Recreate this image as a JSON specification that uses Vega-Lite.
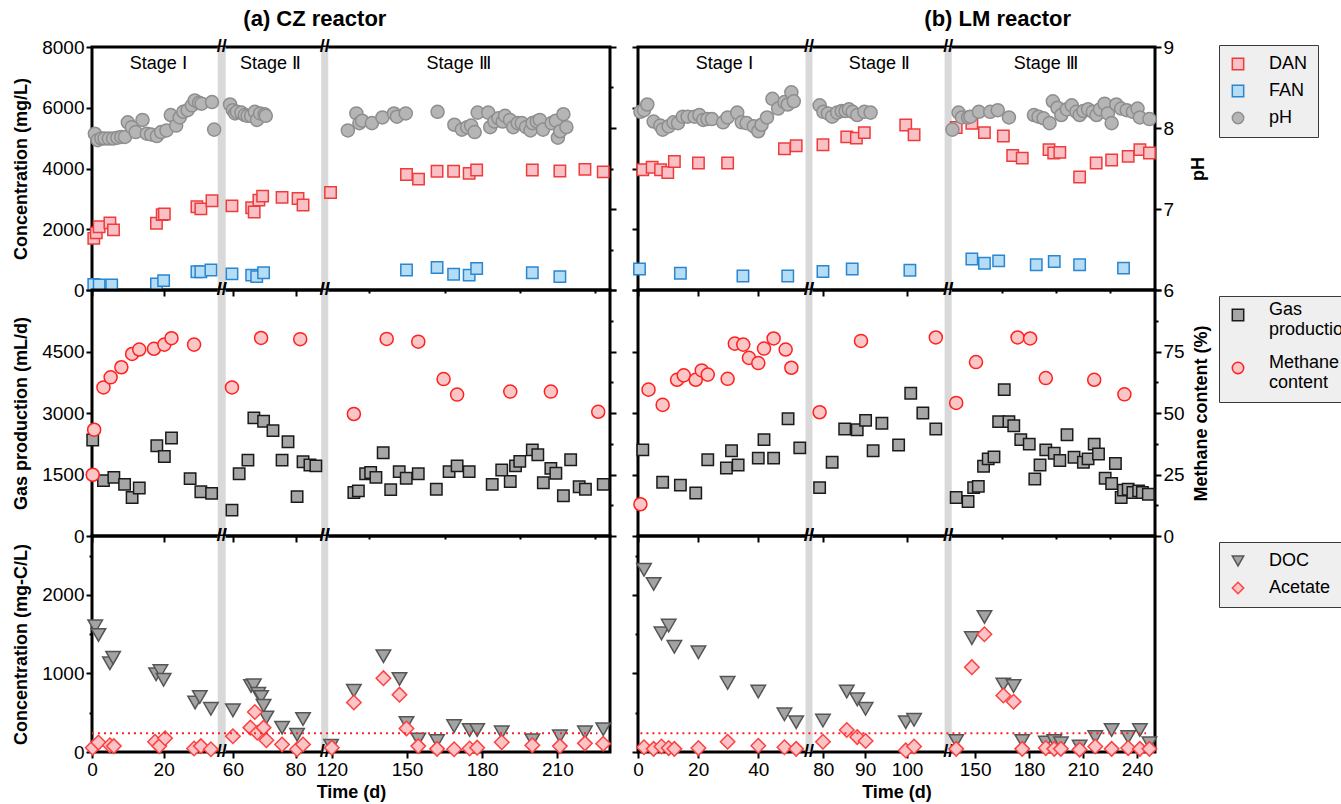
{
"$schema":"https://vega.github.io/schema/vega-lite/v6.json",
"background":"white",
"padding":{"left":11,"top":7,"right":0,"bottom":0},
"config":{
 "font":"Liberation Sans",
 "view":{"stroke":"black","strokeWidth":3},
 "axis":{"domain":false,"grid":false,"tickColor":"black","tickWidth":2,"labelFontSize":19,"labelColor":"black","labelFont":"Liberation Sans","titleFont":"Liberation Sans","titleFontSize":18,"titleFontWeight":"bold","titleColor":"black","labelPadding":2,"labelOverlap":false,"labelFlush":false},
 "legend":{"fillColor":"#efefef","strokeColor":"#3a3a3a","padding":10,"labelFontSize":18,"labelFont":"Liberation Sans","labelColor":"black","symbolSize":130,"symbolStrokeWidth":1.5,"rowPadding":9,"labelOffset":22,"cornerRadius":0,"labelLimit":300},
 "title":{"font":"Liberation Sans","fontSize":22,"fontWeight":"bold","color":"black","anchor":"middle","offset":6}
},
"datasets":{
 "czBands":[{"a":35.1,"z":57.7},{"a":88.2,"z":118.6}],
 "lmBands":[{"a":55.7,"z":77.4},{"a":109,"z":137}],
 "czBreaks":[{"b":46.4},{"b":103.4}],
 "lmBreaks":[{"b":66.5},{"b":123}],
 "czStages":[{"d":18.5,"v":7450,"t":"Stage Ⅰ"},{"d":72,"v":7450,"t":"Stage Ⅱ"},{"d":170.6,"v":7450,"t":"Stage Ⅲ"}],
 "lmStages":[{"d":28.7,"v":7450,"t":"Stage Ⅰ"},{"d":93.4,"v":7450,"t":"Stage Ⅱ"},{"d":189.3,"v":7450,"t":"Stage Ⅲ"}],
 "czLimit":[{"a":0,"z":226,"v":240}],
 "lmLimit":[{"a":0.8,"z":245,"v":240}],
 "czTop":[
  {"s":"DAN","d":0.5,"v":1700},{"s":"DAN","d":1.2,"v":1880},{"s":"DAN","d":2,"v":2080},{"s":"DAN","d":5,"v":2210},{"s":"DAN","d":6,"v":1980},{"s":"DAN","d":18,"v":2200},{"s":"DAN","d":19.6,"v":2480},{"s":"DAN","d":20.2,"v":2500},{"s":"DAN","d":29.3,"v":2740},{"s":"DAN","d":30.4,"v":2670},{"s":"DAN","d":33.5,"v":2940},{"s":"DAN","d":59.7,"v":2770},{"s":"DAN","d":66,"v":2710},{"s":"DAN","d":66.8,"v":2570},{"s":"DAN","d":68.3,"v":2960},{"s":"DAN","d":69.5,"v":3090},{"s":"DAN","d":75.7,"v":3050},{"s":"DAN","d":80.8,"v":3010},{"s":"DAN","d":82.4,"v":2800},{"s":"DAN","d":119.5,"v":3210},{"s":"DAN","d":149.8,"v":3800},{"s":"DAN","d":154.6,"v":3650},{"s":"DAN","d":162,"v":3910},{"s":"DAN","d":168.6,"v":3910},{"s":"DAN","d":174.8,"v":3840},{"s":"DAN","d":177.8,"v":3950},{"s":"DAN","d":200,"v":3950},{"s":"DAN","d":211,"v":3920},{"s":"DAN","d":221,"v":3970},{"s":"DAN","d":228.3,"v":3890},
  {"s":"FAN","d":0.5,"v":180},{"s":"FAN","d":2,"v":170},{"s":"FAN","d":5.5,"v":170},{"s":"FAN","d":18,"v":200},{"s":"FAN","d":20,"v":310},{"s":"FAN","d":29.3,"v":600},{"s":"FAN","d":30.4,"v":600},{"s":"FAN","d":33.2,"v":660},{"s":"FAN","d":59.7,"v":530},{"s":"FAN","d":66,"v":490},{"s":"FAN","d":67.6,"v":440},{"s":"FAN","d":69.8,"v":570},{"s":"FAN","d":149.8,"v":660},{"s":"FAN","d":162,"v":740},{"s":"FAN","d":168.6,"v":520},{"s":"FAN","d":174.8,"v":490},{"s":"FAN","d":177.8,"v":710},{"s":"FAN","d":200,"v":570},{"s":"FAN","d":211,"v":440},
  {"s":"pH","d":0.8,"v":7.93},{"s":"pH","d":1.6,"v":7.85},{"s":"pH","d":2.6,"v":7.87},{"s":"pH","d":3.5,"v":7.87},{"s":"pH","d":4.7,"v":7.87},{"s":"pH","d":5.9,"v":7.87},{"s":"pH","d":7.1,"v":7.88},{"s":"pH","d":8.2,"v":7.89},{"s":"pH","d":9.2,"v":7.89},{"s":"pH","d":10,"v":8.07},{"s":"pH","d":11.1,"v":8.01},{"s":"pH","d":12.2,"v":7.95},{"s":"pH","d":14.1,"v":8.1},{"s":"pH","d":15.3,"v":7.93},{"s":"pH","d":16.5,"v":7.92},{"s":"pH","d":18.1,"v":7.9},{"s":"pH","d":19.3,"v":7.95},{"s":"pH","d":20.8,"v":7.97},{"s":"pH","d":22,"v":8.16},{"s":"pH","d":23.5,"v":8.03},{"s":"pH","d":24.5,"v":8.13},{"s":"pH","d":25.5,"v":8.2},{"s":"pH","d":26.7,"v":8.22},{"s":"pH","d":27.9,"v":8.28},{"s":"pH","d":28.7,"v":8.34},{"s":"pH","d":29.9,"v":8.31},{"s":"pH","d":30.6,"v":8.3},{"s":"pH","d":33.5,"v":8.32},{"s":"pH","d":34.1,"v":7.98},
  {"s":"pH","d":59.1,"v":8.29},{"s":"pH","d":60,"v":8.22},{"s":"pH","d":60.7,"v":8.18},{"s":"pH","d":61.3,"v":8.2},{"s":"pH","d":62.7,"v":8.19},{"s":"pH","d":63.8,"v":8.16},{"s":"pH","d":64.7,"v":8.15},{"s":"pH","d":65.8,"v":8.15},{"s":"pH","d":67,"v":8.2},{"s":"pH","d":67.7,"v":8.1},{"s":"pH","d":68.7,"v":8.18},{"s":"pH","d":70.1,"v":8.17},{"s":"pH","d":70.5,"v":8.15},
  {"s":"pH","d":126.4,"v":7.97},{"s":"pH","d":129.8,"v":8.18},{"s":"pH","d":131,"v":8.06},{"s":"pH","d":132.1,"v":8.09},{"s":"pH","d":136,"v":8.06},{"s":"pH","d":140.2,"v":8.13},{"s":"pH","d":144.8,"v":8.18},{"s":"pH","d":146,"v":8.14},{"s":"pH","d":149.5,"v":8.18},{"s":"pH","d":162.2,"v":8.2},{"s":"pH","d":168.9,"v":8.04},{"s":"pH","d":171.9,"v":7.98},{"s":"pH","d":174,"v":8.01},{"s":"pH","d":175.6,"v":8.03},{"s":"pH","d":177,"v":7.95},{"s":"pH","d":178.2,"v":8.19},{"s":"pH","d":182.4,"v":8.19},{"s":"pH","d":183.2,"v":8.01},{"s":"pH","d":184.9,"v":8.08},{"s":"pH","d":186.5,"v":8.12},{"s":"pH","d":188.2,"v":8.08},{"s":"pH","d":189.1,"v":8.15},{"s":"pH","d":191.1,"v":8.1},{"s":"pH","d":192.4,"v":8.01},{"s":"pH","d":194.2,"v":8.06},{"s":"pH","d":195.8,"v":8.06},{"s":"pH","d":197.5,"v":8.01},{"s":"pH","d":199.3,"v":7.97},{"s":"pH","d":200.1,"v":8.06},{"s":"pH","d":201.8,"v":8.08},{"s":"pH","d":203,"v":8.1},{"s":"pH","d":204.3,"v":7.98},{"s":"pH","d":207.7,"v":8.06},{"s":"pH","d":209.4,"v":8.09},{"s":"pH","d":210.2,"v":7.88},{"s":"pH","d":211.1,"v":7.96},{"s":"pH","d":212.4,"v":8.17},{"s":"pH","d":213.6,"v":8.01}
 ],
 "lmTop":[
  {"s":"DAN","d":1.6,"v":3960},{"s":"DAN","d":4.7,"v":4040},{"s":"DAN","d":7.5,"v":3960},{"s":"DAN","d":9.9,"v":3870},{"s":"DAN","d":12.1,"v":4230},{"s":"DAN","d":20.1,"v":4180},{"s":"DAN","d":29.8,"v":4180},{"s":"DAN","d":48.7,"v":4650},{"s":"DAN","d":52.6,"v":4750},{"s":"DAN","d":79.9,"v":4780},{"s":"DAN","d":85.6,"v":5040},{"s":"DAN","d":87.9,"v":5000},{"s":"DAN","d":89.8,"v":5180},{"s":"DAN","d":99.7,"v":5430},{"s":"DAN","d":101.7,"v":5110},{"s":"DAN","d":139.5,"v":5350},{"s":"DAN","d":148.2,"v":5490},{"s":"DAN","d":155.2,"v":5180},{"s":"DAN","d":165.7,"v":5070},{"s":"DAN","d":170.9,"v":4430},{"s":"DAN","d":176.2,"v":4340},{"s":"DAN","d":191.1,"v":4620},{"s":"DAN","d":193.7,"v":4510},{"s":"DAN","d":197.1,"v":4530},{"s":"DAN","d":208.1,"v":3720},{"s":"DAN","d":217.3,"v":4180},{"s":"DAN","d":225.9,"v":4280},{"s":"DAN","d":235.1,"v":4400},{"s":"DAN","d":241.6,"v":4620},{"s":"DAN","d":246.9,"v":4510},
  {"s":"FAN","d":0.5,"v":690},{"s":"FAN","d":14.1,"v":550},{"s":"FAN","d":34.9,"v":460},{"s":"FAN","d":49.8,"v":460},{"s":"FAN","d":79.9,"v":610},{"s":"FAN","d":86.9,"v":690},{"s":"FAN","d":100.7,"v":650},{"s":"FAN","d":148.2,"v":1020},{"s":"FAN","d":155.2,"v":880},{"s":"FAN","d":163.1,"v":960},{"s":"FAN","d":184,"v":830},{"s":"FAN","d":194,"v":940},{"s":"FAN","d":208.1,"v":830},{"s":"FAN","d":232.5,"v":720},
  {"s":"pH","d":0.8,"v":8.2},{"s":"pH","d":2,"v":8.22},{"s":"pH","d":3.1,"v":8.29},{"s":"pH","d":5.2,"v":8.08},{"s":"pH","d":7.4,"v":8.03},{"s":"pH","d":8.2,"v":7.98},{"s":"pH","d":10.2,"v":8.02},{"s":"pH","d":11.8,"v":8.07},{"s":"pH","d":13.3,"v":8.06},{"s":"pH","d":14.9,"v":8.14},{"s":"pH","d":16.5,"v":8.14},{"s":"pH","d":18.8,"v":8.14},{"s":"pH","d":20.4,"v":8.16},{"s":"pH","d":21.7,"v":8.1},{"s":"pH","d":23.1,"v":8.11},{"s":"pH","d":24.6,"v":8.11},{"s":"pH","d":28.3,"v":8.07},{"s":"pH","d":29.8,"v":8.13},{"s":"pH","d":33,"v":8.19},{"s":"pH","d":34.5,"v":8.07},{"s":"pH","d":36.1,"v":8.06},{"s":"pH","d":38.5,"v":8.02},{"s":"pH","d":40,"v":7.96},{"s":"pH","d":41.1,"v":8.04},{"s":"pH","d":42.9,"v":8.13},{"s":"pH","d":44.7,"v":8.36},{"s":"pH","d":46.6,"v":8.24},{"s":"pH","d":48.7,"v":8.32},{"s":"pH","d":49.8,"v":8.29},{"s":"pH","d":51,"v":8.44},{"s":"pH","d":51.8,"v":8.33},
  {"s":"pH","d":79.1,"v":8.28},{"s":"pH","d":80,"v":8.2},{"s":"pH","d":81.1,"v":8.18},{"s":"pH","d":82.1,"v":8.14},{"s":"pH","d":83.3,"v":8.19},{"s":"pH","d":84.4,"v":8.21},{"s":"pH","d":85.3,"v":8.21},{"s":"pH","d":86.1,"v":8.23},{"s":"pH","d":87,"v":8.2},{"s":"pH","d":88.1,"v":8.16},{"s":"pH","d":89.8,"v":8.2},{"s":"pH","d":91.3,"v":8.19},
  {"s":"pH","d":137.4,"v":7.98},{"s":"pH","d":140.8,"v":8.19},{"s":"pH","d":142.7,"v":8.13},{"s":"pH","d":146.1,"v":8.13},{"s":"pH","d":147.4,"v":8.14},{"s":"pH","d":152.1,"v":8.2},{"s":"pH","d":158.4,"v":8.2},{"s":"pH","d":162.6,"v":8.22},{"s":"pH","d":168.8,"v":8.13},{"s":"pH","d":182.7,"v":8.16},{"s":"pH","d":185.3,"v":8.14},{"s":"pH","d":188,"v":8.12},{"s":"pH","d":191.4,"v":8.06},{"s":"pH","d":193.2,"v":8.33},{"s":"pH","d":195.8,"v":8.25},{"s":"pH","d":197.9,"v":8.16},{"s":"pH","d":201,"v":8.23},{"s":"pH","d":203.7,"v":8.28},{"s":"pH","d":206.3,"v":8.2},{"s":"pH","d":208.1,"v":8.16},{"s":"pH","d":210.2,"v":8.21},{"s":"pH","d":212.8,"v":8.23},{"s":"pH","d":215.4,"v":8.2},{"s":"pH","d":217.5,"v":8.16},{"s":"pH","d":219.4,"v":8.23},{"s":"pH","d":222,"v":8.3},{"s":"pH","d":223.8,"v":8.18},{"s":"pH","d":225.9,"v":8.06},{"s":"pH","d":228.5,"v":8.29},{"s":"pH","d":231.2,"v":8.24},{"s":"pH","d":234.3,"v":8.22},{"s":"pH","d":237.7,"v":8.2},{"s":"pH","d":240.3,"v":8.24},{"s":"pH","d":241.6,"v":8.13},{"s":"pH","d":246.9,"v":8.11}
 ],
 "czMid":[
  {"s":"Gas production","d":0.2,"v":2340},{"s":"Gas production","d":3.2,"v":1350},{"s":"Gas production","d":6.1,"v":1430},{"s":"Gas production","d":9.1,"v":1260},{"s":"Gas production","d":11.2,"v":940},{"s":"Gas production","d":13.2,"v":1170},{"s":"Gas production","d":18.1,"v":2200},{"s":"Gas production","d":20.2,"v":1940},{"s":"Gas production","d":22.2,"v":2390},{"s":"Gas production","d":27.4,"v":1400},{"s":"Gas production","d":30.4,"v":1080},{"s":"Gas production","d":33.4,"v":1040},{"s":"Gas production","d":59.7,"v":630},{"s":"Gas production","d":62,"v":1520},{"s":"Gas production","d":64.8,"v":1850},{"s":"Gas production","d":66.7,"v":2880},{"s":"Gas production","d":69.8,"v":2800},{"s":"Gas production","d":72.8,"v":2570},{"s":"Gas production","d":75.7,"v":1850},{"s":"Gas production","d":77.6,"v":2300},{"s":"Gas production","d":80.5,"v":960},{"s":"Gas production","d":82.4,"v":1810},{"s":"Gas production","d":84.6,"v":1730},{"s":"Gas production","d":86.5,"v":1710},{"s":"Gas production","d":128.8,"v":1060},{"s":"Gas production","d":130.6,"v":1100},{"s":"Gas production","d":133.5,"v":1520},{"s":"Gas production","d":135.5,"v":1550},{"s":"Gas production","d":137.6,"v":1430},{"s":"Gas production","d":140.5,"v":2030},{"s":"Gas production","d":143.5,"v":1130},{"s":"Gas production","d":146.9,"v":1570},{"s":"Gas production","d":149.7,"v":1410},{"s":"Gas production","d":154.5,"v":1520},{"s":"Gas production","d":161.7,"v":1140},{"s":"Gas production","d":166.8,"v":1570},{"s":"Gas production","d":170,"v":1710},{"s":"Gas production","d":174.8,"v":1570},{"s":"Gas production","d":184,"v":1260},{"s":"Gas production","d":187.8,"v":1610},{"s":"Gas production","d":191.2,"v":1330},{"s":"Gas production","d":193.3,"v":1710},{"s":"Gas production","d":195,"v":1820},{"s":"Gas production","d":200,"v":2100},{"s":"Gas production","d":202.2,"v":1980},{"s":"Gas production","d":204.4,"v":1300},{"s":"Gas production","d":207.4,"v":1650},{"s":"Gas production","d":209.4,"v":1530},{"s":"Gas production","d":212.4,"v":980},{"s":"Gas production","d":215.3,"v":1860},{"s":"Gas production","d":218.7,"v":1200},{"s":"Gas production","d":221.2,"v":1140},{"s":"Gas production","d":228.3,"v":1260},
  {"s":"Methane content","d":0.2,"v":24.9},{"s":"Methane content","d":0.6,"v":43.2},{"s":"Methane content","d":3.2,"v":60.4},{"s":"Methane content","d":5.2,"v":64.5},{"s":"Methane content","d":8.2,"v":68.6},{"s":"Methane content","d":11.2,"v":74},{"s":"Methane content","d":13.2,"v":75.8},{"s":"Methane content","d":17.3,"v":76.1},{"s":"Methane content","d":20.2,"v":77.8},{"s":"Methane content","d":22.2,"v":80.4},{"s":"Methane content","d":28.5,"v":77.8},{"s":"Methane content","d":59.7,"v":60.4},{"s":"Methane content","d":69,"v":80.5},{"s":"Methane content","d":81.5,"v":80},{"s":"Methane content","d":128.8,"v":49.6},{"s":"Methane content","d":141.9,"v":80.1},{"s":"Methane content","d":154.5,"v":79},{"s":"Methane content","d":164.6,"v":63.8},{"s":"Methane content","d":170,"v":57.5},{"s":"Methane content","d":191.2,"v":58.7},{"s":"Methane content","d":207.4,"v":58.7},{"s":"Methane content","d":226.3,"v":50.5}
 ],
 "lmMid":[
  {"s":"Gas production","d":1.6,"v":2100},{"s":"Gas production","d":8.2,"v":1310},{"s":"Gas production","d":14.1,"v":1240},{"s":"Gas production","d":19.2,"v":1050},{"s":"Gas production","d":23.2,"v":1860},{"s":"Gas production","d":29.4,"v":1660},{"s":"Gas production","d":31.1,"v":2080},{"s":"Gas production","d":33.3,"v":1730},{"s":"Gas production","d":40,"v":1900},{"s":"Gas production","d":41.9,"v":2350},{"s":"Gas production","d":45.1,"v":1900},{"s":"Gas production","d":49.9,"v":2860},{"s":"Gas production","d":53.8,"v":2150},{"s":"Gas production","d":79.1,"v":1180},{"s":"Gas production","d":82.1,"v":1800},{"s":"Gas production","d":85.1,"v":2610},{"s":"Gas production","d":88.1,"v":2590},{"s":"Gas production","d":90.1,"v":2820},{"s":"Gas production","d":91.9,"v":2080},{"s":"Gas production","d":94,"v":2750},{"s":"Gas production","d":98,"v":2220},{"s":"Gas production","d":100.9,"v":3480},{"s":"Gas production","d":103.8,"v":3000},{"s":"Gas production","d":106.9,"v":2610},{"s":"Gas production","d":139.5,"v":940},{"s":"Gas production","d":146.1,"v":840},{"s":"Gas production","d":149.2,"v":1180},{"s":"Gas production","d":151.8,"v":1210},{"s":"Gas production","d":154.7,"v":1700},{"s":"Gas production","d":157.3,"v":1880},{"s":"Gas production","d":160.5,"v":1930},{"s":"Gas production","d":163.1,"v":2790},{"s":"Gas production","d":166.2,"v":3570},{"s":"Gas production","d":168.8,"v":2790},{"s":"Gas production","d":171.5,"v":2690},{"s":"Gas production","d":175.4,"v":2350},{"s":"Gas production","d":180.1,"v":2240},{"s":"Gas production","d":183.2,"v":1390},{"s":"Gas production","d":186.1,"v":1730},{"s":"Gas production","d":189.3,"v":2100},{"s":"Gas production","d":194,"v":2020},{"s":"Gas production","d":197.1,"v":1840},{"s":"Gas production","d":201.1,"v":2470},{"s":"Gas production","d":205,"v":1920},{"s":"Gas production","d":210.2,"v":1800},{"s":"Gas production","d":212.8,"v":1880},{"s":"Gas production","d":216.2,"v":2240},{"s":"Gas production","d":218.6,"v":2000},{"s":"Gas production","d":222.3,"v":1410},{"s":"Gas production","d":225.9,"v":1280},{"s":"Gas production","d":228,"v":1770},{"s":"Gas production","d":231.2,"v":940},{"s":"Gas production","d":232.5,"v":1120},{"s":"Gas production","d":235.1,"v":1140},{"s":"Gas production","d":237.7,"v":1060},{"s":"Gas production","d":240.9,"v":1100},{"s":"Gas production","d":243,"v":1060},{"s":"Gas production","d":246.3,"v":1020},
  {"s":"Methane content","d":0.8,"v":12.9},{"s":"Methane content","d":3.5,"v":59.5},{"s":"Methane content","d":8.2,"v":53.3},{"s":"Methane content","d":13,"v":63.5},{"s":"Methane content","d":15.2,"v":65.3},{"s":"Methane content","d":19.2,"v":63.5},{"s":"Methane content","d":21.2,"v":67.3},{"s":"Methane content","d":23.2,"v":65.6},{"s":"Methane content","d":29.8,"v":63.9},{"s":"Methane content","d":32.2,"v":78.2},{"s":"Methane content","d":35,"v":77.8},{"s":"Methane content","d":36.9,"v":72.4},{"s":"Methane content","d":40,"v":70.3},{"s":"Methane content","d":41.9,"v":76.2},{"s":"Methane content","d":45.1,"v":80.3},{"s":"Methane content","d":49.1,"v":75.8},{"s":"Methane content","d":51,"v":68.4},{"s":"Methane content","d":79.1,"v":50.3},{"s":"Methane content","d":89,"v":79.3},{"s":"Methane content","d":106.9,"v":80.7},{"s":"Methane content","d":139.5,"v":54.1},{"s":"Methane content","d":150.5,"v":70.7},{"s":"Methane content","d":173.6,"v":80.7},{"s":"Methane content","d":180.6,"v":80.3},{"s":"Methane content","d":189.3,"v":64.2},{"s":"Methane content","d":216.2,"v":63.5},{"s":"Methane content","d":233,"v":57.6}
 ],
 "czBot":[
  {"s":"DOC","d":0.9,"v":1600},{"s":"DOC","d":1.8,"v":1490},{"s":"DOC","d":5,"v":1130},{"s":"DOC","d":5.9,"v":1200},{"s":"DOC","d":17.9,"v":990},{"s":"DOC","d":19.1,"v":1030},{"s":"DOC","d":20,"v":920},{"s":"DOC","d":28.8,"v":630},{"s":"DOC","d":30.1,"v":700},{"s":"DOC","d":33.2,"v":550},{"s":"DOC","d":60,"v":530},{"s":"DOC","d":65.8,"v":840},{"s":"DOC","d":66.7,"v":850},{"s":"DOC","d":68.1,"v":740},{"s":"DOC","d":69,"v":700},{"s":"DOC","d":69.8,"v":590},{"s":"DOC","d":70.7,"v":440},{"s":"DOC","d":75.7,"v":310},{"s":"DOC","d":80.5,"v":220},{"s":"DOC","d":82.4,"v":420},{"s":"DOC","d":119.7,"v":80},{"s":"DOC","d":128.8,"v":780},{"s":"DOC","d":140.6,"v":1220},{"s":"DOC","d":147,"v":930},{"s":"DOC","d":149.8,"v":370},{"s":"DOC","d":154.5,"v":160},{"s":"DOC","d":162,"v":140},{"s":"DOC","d":168.8,"v":330},{"s":"DOC","d":175,"v":280},{"s":"DOC","d":178,"v":280},{"s":"DOC","d":187.8,"v":250},{"s":"DOC","d":200,"v":150},{"s":"DOC","d":211,"v":200},{"s":"DOC","d":221,"v":250},{"s":"DOC","d":228.3,"v":290},
  {"s":"Acetate","d":0.2,"v":55},{"s":"Acetate","d":1.8,"v":120},{"s":"Acetate","d":5,"v":85},{"s":"Acetate","d":6.1,"v":75},{"s":"Acetate","d":17.6,"v":130},{"s":"Acetate","d":18.8,"v":75},{"s":"Acetate","d":20.4,"v":175},{"s":"Acetate","d":28.5,"v":45},{"s":"Acetate","d":30.4,"v":75},{"s":"Acetate","d":33.2,"v":35},{"s":"Acetate","d":60,"v":200},{"s":"Acetate","d":65.6,"v":310},{"s":"Acetate","d":67,"v":510},{"s":"Acetate","d":67.8,"v":245},{"s":"Acetate","d":69.8,"v":310},{"s":"Acetate","d":70.7,"v":150},{"s":"Acetate","d":75.7,"v":95},{"s":"Acetate","d":80.5,"v":35},{"s":"Acetate","d":82.4,"v":95},{"s":"Acetate","d":120,"v":55},{"s":"Acetate","d":128.8,"v":630},{"s":"Acetate","d":140.6,"v":940},{"s":"Acetate","d":147,"v":730},{"s":"Acetate","d":149.8,"v":300},{"s":"Acetate","d":154.5,"v":75},{"s":"Acetate","d":162,"v":40},{"s":"Acetate","d":168.8,"v":35},{"s":"Acetate","d":175,"v":45},{"s":"Acetate","d":178,"v":55},{"s":"Acetate","d":187.8,"v":125},{"s":"Acetate","d":200,"v":85},{"s":"Acetate","d":211,"v":75},{"s":"Acetate","d":221,"v":110},{"s":"Acetate","d":228.3,"v":105}
 ],
 "lmBot":[
  {"s":"DOC","d":2,"v":2320},{"s":"DOC","d":5.2,"v":2140},{"s":"DOC","d":7.8,"v":1510},{"s":"DOC","d":10.2,"v":1610},{"s":"DOC","d":12.1,"v":1340},{"s":"DOC","d":20.1,"v":1270},{"s":"DOC","d":29.8,"v":880},{"s":"DOC","d":40,"v":770},{"s":"DOC","d":48.7,"v":480},{"s":"DOC","d":52.6,"v":380},{"s":"DOC","d":79.9,"v":400},{"s":"DOC","d":85.6,"v":770},{"s":"DOC","d":88.1,"v":670},{"s":"DOC","d":90.1,"v":550},{"s":"DOC","d":99.7,"v":380},{"s":"DOC","d":101.7,"v":410},{"s":"DOC","d":139.5,"v":140},{"s":"DOC","d":148.2,"v":1450},{"s":"DOC","d":155.2,"v":1720},{"s":"DOC","d":165.7,"v":860},{"s":"DOC","d":171.4,"v":840},{"s":"DOC","d":176.2,"v":140},{"s":"DOC","d":189.3,"v":120},{"s":"DOC","d":194,"v":140},{"s":"DOC","d":197.7,"v":110},{"s":"DOC","d":208.1,"v":70},{"s":"DOC","d":216.8,"v":190},{"s":"DOC","d":225.9,"v":280},{"s":"DOC","d":235.1,"v":190},{"s":"DOC","d":241.6,"v":280},{"s":"DOC","d":246.9,"v":110},
  {"s":"Acetate","d":2,"v":60},{"s":"Acetate","d":5.2,"v":40},{"s":"Acetate","d":7.8,"v":70},{"s":"Acetate","d":10.2,"v":50},{"s":"Acetate","d":12.1,"v":40},{"s":"Acetate","d":20.1,"v":50},{"s":"Acetate","d":29.8,"v":130},{"s":"Acetate","d":40,"v":80},{"s":"Acetate","d":48.7,"v":60},{"s":"Acetate","d":52.6,"v":40},{"s":"Acetate","d":79.9,"v":130},{"s":"Acetate","d":85.6,"v":280},{"s":"Acetate","d":88.1,"v":190},{"s":"Acetate","d":90.1,"v":140},{"s":"Acetate","d":99.7,"v":20},{"s":"Acetate","d":101.7,"v":70},{"s":"Acetate","d":139.5,"v":40},{"s":"Acetate","d":148.2,"v":1080},{"s":"Acetate","d":155.2,"v":1500},{"s":"Acetate","d":165.7,"v":720},{"s":"Acetate","d":171.4,"v":640},{"s":"Acetate","d":176.2,"v":40},{"s":"Acetate","d":189.3,"v":50},{"s":"Acetate","d":194,"v":40},{"s":"Acetate","d":197.7,"v":40},{"s":"Acetate","d":208.1,"v":30},{"s":"Acetate","d":216.8,"v":70},{"s":"Acetate","d":225.9,"v":40},{"s":"Acetate","d":235.1,"v":50},{"s":"Acetate","d":241.6,"v":40},{"s":"Acetate","d":246.9,"v":40}
 ]
},
"hconcat":[
 {
  "title":{"text":"(a) CZ reactor"},
  "spacing":0,
  "bounds":"flush",
  "resolve":{"scale":{"fill":"independent","stroke":"independent","shape":"independent"}},
  "vconcat":[
   {
    "width":518,"height":243,
    "resolve":{"scale":{"y":"independent"}},
    "layer":[
     {"layer":[
      {"data":{"name":"czBands"},"mark":{"type":"rect","color":"#d9d9d9"},"encoding":{"x":{"field":"a","type":"quantitative","title":null,"scale":{"domain":[0,35.1,57.7,88.2,118.6,231],"range":[0,125.7,133.7,229.2,236.3,518],"nice":false,"zero":false},"axis":{"values":[0,10,20,30,60,70,80,120,135,150,165,180,195,210,225],"labels":false,"tickSize":{"condition":{"test":"indexof([0,20,60,80,120,150,180,210],datum.value)>=0","value":6},"value":3}}},"x2":{"field":"z"}}},
      {"data":{"name":"czBreaks"},"mark":{"type":"text","text":"//","fontSize":18,"fontWeight":"bold","color":"black","baseline":"middle","align":"center"},"encoding":{"x":{"field":"b","type":"quantitative","title":null},"y":{"datum":0,"type":"quantitative","title":"Concentration (mg/L)"}}},
      {"data":{"name":"czBreaks"},"mark":{"type":"text","text":"//","fontSize":18,"fontWeight":"bold","color":"black","baseline":"middle","align":"center"},"encoding":{"x":{"field":"b","type":"quantitative","title":null},"y":{"datum":8000,"type":"quantitative","title":"Concentration (mg/L)"}}},
      {"data":{"name":"czStages"},"mark":{"type":"text","fontSize":18,"color":"black","font":"Liberation Sans"},"encoding":{"x":{"field":"d","type":"quantitative","title":null},"y":{"field":"v","type":"quantitative","title":"Concentration (mg/L)"},"text":{"field":"t"}}},
      {"data":{"name":"czTop"},"transform":[{"filter":"datum.s != 'pH'"}],"mark":{"type":"point","filled":true,"opacity":1,"size":130,"strokeWidth":1.5},
       "encoding":{"x":{"field":"d","type":"quantitative","title":null},
        "y":{"field":"v","type":"quantitative","title":"Concentration (mg/L)","scale":{"domain":[0,8000],"nice":false},"axis":{"values":[0,1000,2000,3000,4000,5000,6000,7000,8000],"format":"d","labelExpr":"datum.value % 2000 == 0 ? datum.label : ''","titlePadding":11,"tickSize":{"condition":{"test":"datum.value % 2000 == 0","value":6},"value":3}}},
        "fill":{"field":"s","type":"nominal","scale":{"domain":["DAN","FAN","pH"],"range":["#f9c1c5","#b6ddf6","#b5b5b5"]},"legend":null},
        "stroke":{"field":"s","type":"nominal","scale":{"domain":["DAN","FAN","pH"],"range":["#ef3b3b","#2b86d0","#8e8e8e"]},"legend":null},
        "shape":{"field":"s","type":"nominal","scale":{"domain":["DAN","FAN","pH"],"range":["square","square","circle"]},"legend":null}}}
     ]},
     {"data":{"name":"czTop"},"transform":[{"filter":"datum.s == 'pH'"}],"mark":{"type":"point","filled":true,"opacity":1,"size":170,"strokeWidth":1.5},
      "encoding":{"x":{"field":"d","type":"quantitative","title":null},
       "y":{"field":"v","type":"quantitative","title":null,"scale":{"domain":[6,9],"nice":false,"zero":false},"axis":{"orient":"right","values":[6,6.5,7,7.5,8,8.5,9],"labels":false,"tickSize":{"condition":{"test":"datum.value % 1 == 0","value":6},"value":3}}},
       "fill":{"field":"s","type":"nominal","scale":{"domain":["DAN","FAN","pH"],"range":["#f9c1c5","#b6ddf6","#b5b5b5"]},"legend":null},
       "stroke":{"field":"s","type":"nominal","scale":{"domain":["DAN","FAN","pH"],"range":["#ef3b3b","#2b86d0","#8e8e8e"]},"legend":null},
       "shape":{"field":"s","type":"nominal","scale":{"domain":["DAN","FAN","pH"],"range":["square","square","circle"]},"legend":null}}}
    ]
   },
   {
    "width":518,"height":246,
    "resolve":{"scale":{"y":"independent"}},
    "layer":[
     {"layer":[
      {"data":{"name":"czBands"},"mark":{"type":"rect","color":"#d9d9d9"},"encoding":{"x":{"field":"a","type":"quantitative","title":null,"scale":{"domain":[0,35.1,57.7,88.2,118.6,231],"range":[0,125.7,133.7,229.2,236.3,518],"nice":false,"zero":false},"axis":{"values":[0,10,20,30,60,70,80,120,135,150,165,180,195,210,225],"labels":false,"tickSize":{"condition":{"test":"indexof([0,20,60,80,120,150,180,210],datum.value)>=0","value":6},"value":3}}},"x2":{"field":"z"}}},
      {"data":{"name":"czBreaks"},"mark":{"type":"text","text":"//","fontSize":18,"fontWeight":"bold","color":"black","baseline":"middle","align":"center"},"encoding":{"x":{"field":"b","type":"quantitative","title":null},"y":{"datum":0,"type":"quantitative","title":"Gas production (mL/d)"}}},
      {"data":{"name":"czBreaks"},"mark":{"type":"text","text":"//","fontSize":18,"fontWeight":"bold","color":"black","baseline":"middle","align":"center"},"encoding":{"x":{"field":"b","type":"quantitative","title":null},"y":{"datum":6000,"type":"quantitative","title":"Gas production (mL/d)"}}},
      {"data":{"name":"czMid"},"transform":[{"filter":"datum.s == 'Gas production'"}],"mark":{"type":"point","filled":true,"opacity":1,"size":130,"strokeWidth":1.5},
       "encoding":{"x":{"field":"d","type":"quantitative","title":null},
        "y":{"field":"v","type":"quantitative","title":"Gas production (mL/d)","scale":{"domain":[0,6000],"nice":false},"axis":{"values":[0,750,1500,2250,3000,3750,4500,5250,6000],"format":"d","labelExpr":"datum.value % 1500 == 0 && datum.value < 6000 ? datum.label : ''","titlePadding":11,"tickSize":{"condition":{"test":"datum.value % 1500 == 0","value":6},"value":3}}},
        "fill":{"field":"s","type":"nominal","scale":{"domain":["Gas production","Methane content"],"range":["#a6a6a6","#fbc6c6"]},"legend":null},
        "stroke":{"field":"s","type":"nominal","scale":{"domain":["Gas production","Methane content"],"range":["#1a1a1a","#ff2020"]},"legend":null},
        "shape":{"field":"s","type":"nominal","scale":{"domain":["Gas production","Methane content"],"range":["square","circle"]},"legend":null}}}
     ]},
     {"data":{"name":"czMid"},"transform":[{"filter":"datum.s == 'Methane content'"}],"mark":{"type":"point","filled":true,"opacity":1,"size":170,"strokeWidth":1.5},
      "encoding":{"x":{"field":"d","type":"quantitative","title":null},
       "y":{"field":"v","type":"quantitative","title":null,"scale":{"domain":[0,100],"nice":false},"axis":{"orient":"right","values":[0,12.5,25,37.5,50,62.5,75,87.5,100],"labels":false,"tickSize":{"condition":{"test":"datum.value % 25 == 0","value":6},"value":3}}},
       "fill":{"field":"s","type":"nominal","scale":{"domain":["Gas production","Methane content"],"range":["#a6a6a6","#fbc6c6"]},"legend":null},
       "stroke":{"field":"s","type":"nominal","scale":{"domain":["Gas production","Methane content"],"range":["#1a1a1a","#ff2020"]},"legend":null},
       "shape":{"field":"s","type":"nominal","scale":{"domain":["Gas production","Methane content"],"range":["square","circle"]},"legend":null}}}
    ]
   },
   {
    "width":518,"height":216,
    "layer":[
      {"data":{"name":"czBands"},"mark":{"type":"rect","color":"#d9d9d9"},"encoding":{"x":{"field":"a","type":"quantitative","title":"Time (d)","scale":{"domain":[0,35.1,57.7,88.2,118.6,231],"range":[0,125.7,133.7,229.2,236.3,518],"nice":false,"zero":false},"axis":{"values":[0,20,60,80,120,150,180,210],"format":"d","labelFlush":false,"labelOverlap":false,"titlePadding":4,"tickSize":6}},"x2":{"field":"z"}}},
      {"data":{"name":"czBreaks"},"mark":{"type":"text","text":"//","fontSize":18,"fontWeight":"bold","color":"black","baseline":"middle","align":"center"},"encoding":{"x":{"field":"b","type":"quantitative","title":"Time (d)"},"y":{"datum":0,"type":"quantitative","title":"Concentration (mg-C/L)"}}},
      {"data":{"name":"czBreaks"},"mark":{"type":"text","text":"//","fontSize":18,"fontWeight":"bold","color":"black","baseline":"middle","align":"center"},"encoding":{"x":{"field":"b","type":"quantitative","title":"Time (d)"},"y":{"datum":2750,"type":"quantitative","title":"Concentration (mg-C/L)"}}},
      {"data":{"name":"czBot"},"mark":{"type":"point","filled":true,"opacity":1,"size":210,"strokeWidth":1.5},
       "encoding":{"x":{"field":"d","type":"quantitative","title":"Time (d)"},
        "y":{"field":"v","type":"quantitative","title":"Concentration (mg-C/L)","scale":{"domain":[0,2750],"nice":false},"axis":{"values":[0,500,1000,1500,2000,2500],"format":"d","labelExpr":"datum.value % 1000 == 0 ? datum.label : ''","titlePadding":11,"tickSize":{"condition":{"test":"datum.value % 1000 == 0","value":6},"value":3}}},
        "fill":{"field":"s","type":"nominal","scale":{"domain":["DOC","Acetate"],"range":["#a3a3a3","#fbc4c6"]},"legend":null},
        "stroke":{"field":"s","type":"nominal","scale":{"domain":["DOC","Acetate"],"range":["#555555","#ff4040"]},"legend":null},
        "shape":{"field":"s","type":"nominal","scale":{"domain":["DOC","Acetate"],"range":["triangle-down","diamond"]},"legend":null}}},
      {"data":{"name":"czLimit"},"mark":{"type":"rule","color":"#ff2020","strokeDash":[2,4],"strokeWidth":2},"encoding":{"x":{"field":"a","type":"quantitative","title":"Time (d)"},"x2":{"field":"z"},"y":{"field":"v","type":"quantitative","title":"Concentration (mg-C/L)"}}}
    ]
   }
  ]
 },
 {
  "title":{"text":"(b) LM reactor"},
  "spacing":0,
  "bounds":"flush",
  "resolve":{"scale":{"fill":"independent","stroke":"independent","shape":"independent"}},
  "vconcat":[
   {
    "width":517,"height":243,
    "resolve":{"scale":{"y":"independent"}},
    "layer":[
     {"layer":[
      {"data":{"name":"lmBands"},"mark":{"type":"rect","color":"#d9d9d9"},"encoding":{"x":{"field":"a","type":"quantitative","title":null,"scale":{"domain":[0,55.7,77.4,109,137,250],"range":[0,167.5,174.5,306.6,313.7,517],"nice":false,"zero":false},"axis":{"values":[0,10,20,30,40,50,80,90,100,150,165,180,195,210,225,240],"labels":false,"tickSize":{"condition":{"test":"indexof([0,20,40,80,90,100,150,180,210,240],datum.value)>=0","value":6},"value":3}}},"x2":{"field":"z"}}},
      {"data":{"name":"lmBreaks"},"mark":{"type":"text","text":"//","fontSize":18,"fontWeight":"bold","color":"black","baseline":"middle","align":"center"},"encoding":{"x":{"field":"b","type":"quantitative","title":null},"y":{"datum":0,"type":"quantitative","title":null}}},
      {"data":{"name":"lmBreaks"},"mark":{"type":"text","text":"//","fontSize":18,"fontWeight":"bold","color":"black","baseline":"middle","align":"center"},"encoding":{"x":{"field":"b","type":"quantitative","title":null},"y":{"datum":8000,"type":"quantitative","title":null}}},
      {"data":{"name":"lmStages"},"mark":{"type":"text","fontSize":18,"color":"black","font":"Liberation Sans"},"encoding":{"x":{"field":"d","type":"quantitative","title":null},"y":{"field":"v","type":"quantitative","title":null},"text":{"field":"t"}}},
      {"data":{"name":"lmTop"},"transform":[{"filter":"datum.s != 'pH'"}],"mark":{"type":"point","filled":true,"opacity":1,"size":130,"strokeWidth":1.5},
       "encoding":{"x":{"field":"d","type":"quantitative","title":null},
        "y":{"field":"v","type":"quantitative","title":null,"scale":{"domain":[0,8000],"nice":false},"axis":{"values":[0,1000,2000,3000,4000,5000,6000,7000,8000],"labels":false,"tickSize":{"condition":{"test":"datum.value % 2000 == 0","value":6},"value":3}}},
        "fill":{"field":"s","type":"nominal","scale":{"domain":["DAN","FAN","pH"],"range":["#f9c1c5","#b6ddf6","#b5b5b5"]},"legend":{"orient":"none","legendX":581,"legendY":-2,"title":null,"labelOffset":22}},
        "stroke":{"field":"s","type":"nominal","scale":{"domain":["DAN","FAN","pH"],"range":["#ef3b3b","#2b86d0","#8e8e8e"]},"legend":{"orient":"none","legendX":581,"legendY":-2,"title":null,"labelOffset":22}},
        "shape":{"field":"s","type":"nominal","scale":{"domain":["DAN","FAN","pH"],"range":["square","square","circle"]},"legend":{"orient":"none","legendX":581,"legendY":-2,"title":null,"labelOffset":22}}}}
     ]},
     {"data":{"name":"lmTop"},"transform":[{"filter":"datum.s == 'pH'"}],"mark":{"type":"point","filled":true,"opacity":1,"size":170,"strokeWidth":1.5},
      "encoding":{"x":{"field":"d","type":"quantitative","title":null},
       "y":{"field":"v","type":"quantitative","title":"pH","scale":{"domain":[6,9],"nice":false,"zero":false},"axis":{"orient":"right","values":[6,6.5,7,7.5,8,8.5,9],"format":"d","labelExpr":"datum.value % 1 == 0 ? datum.label : ''","titleAngle":270,"titleBaseline":"top","titlePadding":16,"tickSize":{"condition":{"test":"datum.value % 1 == 0","value":6},"value":3}}},
       "fill":{"field":"s","type":"nominal","scale":{"domain":["DAN","FAN","pH"],"range":["#f9c1c5","#b6ddf6","#b5b5b5"]},"legend":{"orient":"none","legendX":581,"legendY":-2,"title":null,"labelOffset":22}},
       "stroke":{"field":"s","type":"nominal","scale":{"domain":["DAN","FAN","pH"],"range":["#ef3b3b","#2b86d0","#8e8e8e"]},"legend":{"orient":"none","legendX":581,"legendY":-2,"title":null,"labelOffset":22}},
       "shape":{"field":"s","type":"nominal","scale":{"domain":["DAN","FAN","pH"],"range":["square","square","circle"]},"legend":{"orient":"none","legendX":581,"legendY":-2,"title":null,"labelOffset":22}}}}
    ]
   },
   {
    "width":517,"height":246,
    "resolve":{"scale":{"y":"independent"}},
    "layer":[
     {"layer":[
      {"data":{"name":"lmBands"},"mark":{"type":"rect","color":"#d9d9d9"},"encoding":{"x":{"field":"a","type":"quantitative","title":null,"scale":{"domain":[0,55.7,77.4,109,137,250],"range":[0,167.5,174.5,306.6,313.7,517],"nice":false,"zero":false},"axis":{"values":[0,10,20,30,40,50,80,90,100,150,165,180,195,210,225,240],"labels":false,"tickSize":{"condition":{"test":"indexof([0,20,40,80,90,100,150,180,210,240],datum.value)>=0","value":6},"value":3}}},"x2":{"field":"z"}}},
      {"data":{"name":"lmBreaks"},"mark":{"type":"text","text":"//","fontSize":18,"fontWeight":"bold","color":"black","baseline":"middle","align":"center"},"encoding":{"x":{"field":"b","type":"quantitative","title":null},"y":{"datum":0,"type":"quantitative","title":null}}},
      {"data":{"name":"lmBreaks"},"mark":{"type":"text","text":"//","fontSize":18,"fontWeight":"bold","color":"black","baseline":"middle","align":"center"},"encoding":{"x":{"field":"b","type":"quantitative","title":null},"y":{"datum":6000,"type":"quantitative","title":null}}},
      {"data":{"name":"lmMid"},"transform":[{"filter":"datum.s == 'Gas production'"}],"mark":{"type":"point","filled":true,"opacity":1,"size":130,"strokeWidth":1.5},
       "encoding":{"x":{"field":"d","type":"quantitative","title":null},
        "y":{"field":"v","type":"quantitative","title":null,"scale":{"domain":[0,6000],"nice":false},"axis":{"values":[0,750,1500,2250,3000,3750,4500,5250,6000],"labels":false,"tickSize":{"condition":{"test":"datum.value % 1500 == 0","value":6},"value":3}}},
        "fill":{"field":"s","type":"nominal","scale":{"domain":["Gas production","Methane content"],"range":["#a6a6a6","#fbc6c6"]},"legend":{"orient":"none","legendX":581,"legendY":6,"title":null,"labelOffset":22,"rowPadding":15,"labelBaseline":"alphabetic","labelExpr":"datum.label == 'Gas production' ? ['Gas','production'] : ['Methane','content']"}},
        "stroke":{"field":"s","type":"nominal","scale":{"domain":["Gas production","Methane content"],"range":["#1a1a1a","#ff2020"]},"legend":{"orient":"none","legendX":581,"legendY":6,"title":null,"labelOffset":22,"rowPadding":15,"labelBaseline":"alphabetic","labelExpr":"datum.label == 'Gas production' ? ['Gas','production'] : ['Methane','content']"}},
        "shape":{"field":"s","type":"nominal","scale":{"domain":["Gas production","Methane content"],"range":["square","circle"]},"legend":{"orient":"none","legendX":581,"legendY":6,"title":null,"labelOffset":22,"rowPadding":15,"labelBaseline":"alphabetic","labelExpr":"datum.label == 'Gas production' ? ['Gas','production'] : ['Methane','content']"}}}}
     ]},
     {"data":{"name":"lmMid"},"transform":[{"filter":"datum.s == 'Methane content'"}],"mark":{"type":"point","filled":true,"opacity":1,"size":170,"strokeWidth":1.5},
      "encoding":{"x":{"field":"d","type":"quantitative","title":null},
       "y":{"field":"v","type":"quantitative","title":"Methane content (%)","scale":{"domain":[0,100],"nice":false},"axis":{"orient":"right","values":[0,12.5,25,37.5,50,62.5,75,87.5,100],"format":"d","labelExpr":"datum.value % 25 == 0 && datum.value < 100 ? datum.label : ''","titleAngle":270,"titleBaseline":"top","titlePadding":8,"tickSize":{"condition":{"test":"datum.value % 25 == 0","value":6},"value":3}}},
       "fill":{"field":"s","type":"nominal","scale":{"domain":["Gas production","Methane content"],"range":["#a6a6a6","#fbc6c6"]},"legend":{"orient":"none","legendX":581,"legendY":6,"title":null,"labelOffset":22,"rowPadding":15,"labelBaseline":"alphabetic","labelExpr":"datum.label == 'Gas production' ? ['Gas','production'] : ['Methane','content']"}},
       "stroke":{"field":"s","type":"nominal","scale":{"domain":["Gas production","Methane content"],"range":["#1a1a1a","#ff2020"]},"legend":{"orient":"none","legendX":581,"legendY":6,"title":null,"labelOffset":22,"rowPadding":15,"labelBaseline":"alphabetic","labelExpr":"datum.label == 'Gas production' ? ['Gas','production'] : ['Methane','content']"}},
       "shape":{"field":"s","type":"nominal","scale":{"domain":["Gas production","Methane content"],"range":["square","circle"]},"legend":{"orient":"none","legendX":581,"legendY":6,"title":null,"labelOffset":22,"rowPadding":15,"labelBaseline":"alphabetic","labelExpr":"datum.label == 'Gas production' ? ['Gas','production'] : ['Methane','content']"}}}}
    ]
   },
   {
    "width":517,"height":216,
    "layer":[
      {"data":{"name":"lmBands"},"mark":{"type":"rect","color":"#d9d9d9"},"encoding":{"x":{"field":"a","type":"quantitative","title":"Time (d)","scale":{"domain":[0,55.7,77.4,109,137,250],"range":[0,167.5,174.5,306.6,313.7,517],"nice":false,"zero":false},"axis":{"values":[0,20,40,80,90,100,150,180,210,240],"format":"d","labelFlush":false,"labelOverlap":false,"titlePadding":4,"tickSize":6}},"x2":{"field":"z"}}},
      {"data":{"name":"lmBreaks"},"mark":{"type":"text","text":"//","fontSize":18,"fontWeight":"bold","color":"black","baseline":"middle","align":"center"},"encoding":{"x":{"field":"b","type":"quantitative","title":"Time (d)"},"y":{"datum":0,"type":"quantitative","title":null}}},
      {"data":{"name":"lmBreaks"},"mark":{"type":"text","text":"//","fontSize":18,"fontWeight":"bold","color":"black","baseline":"middle","align":"center"},"encoding":{"x":{"field":"b","type":"quantitative","title":"Time (d)"},"y":{"datum":2750,"type":"quantitative","title":null}}},
      {"data":{"name":"lmBot"},"mark":{"type":"point","filled":true,"opacity":1,"size":210,"strokeWidth":1.5},
       "encoding":{"x":{"field":"d","type":"quantitative","title":"Time (d)"},
        "y":{"field":"v","type":"quantitative","title":null,"scale":{"domain":[0,2750],"nice":false},"axis":{"values":[0,500,1000,1500,2000,2500],"labels":false,"tickSize":{"condition":{"test":"datum.value % 1000 == 0","value":6},"value":3}}},
        "fill":{"field":"s","type":"nominal","scale":{"domain":["DOC","Acetate"],"range":["#a3a3a3","#fbc4c6"]},"legend":{"orient":"none","legendX":581,"legendY":6,"title":null,"labelOffset":22}},
        "stroke":{"field":"s","type":"nominal","scale":{"domain":["DOC","Acetate"],"range":["#555555","#ff4040"]},"legend":{"orient":"none","legendX":581,"legendY":6,"title":null,"labelOffset":22}},
        "shape":{"field":"s","type":"nominal","scale":{"domain":["DOC","Acetate"],"range":["triangle-down","diamond"]},"legend":{"orient":"none","legendX":581,"legendY":6,"title":null,"labelOffset":22}}}},
      {"data":{"name":"lmLimit"},"mark":{"type":"rule","color":"#ff2020","strokeDash":[2,4],"strokeWidth":2},"encoding":{"x":{"field":"a","type":"quantitative","title":"Time (d)"},"x2":{"field":"z"},"y":{"field":"v","type":"quantitative","title":null}}}
    ]
   }
  ]
 }
],
"spacing":10,
"resolve":{"scale":{"fill":"independent","stroke":"independent","shape":"independent"}}
}
